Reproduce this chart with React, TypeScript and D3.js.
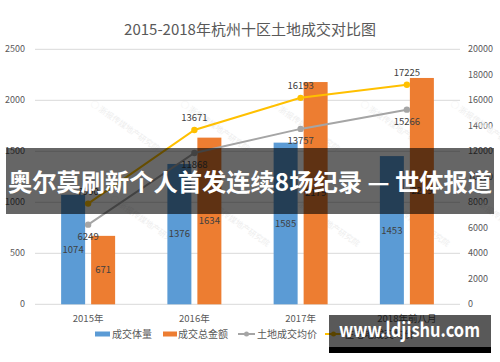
import React from "react";
import * as d3 from "d3";

const categories = ["2015年", "2016年", "2017年", "2018年前八月"];
const volume = [1074, 1376, 1585, 1453];
const amount = [671, 1634, 2179, 2219];
const landPrice = [6249, 11868, 13757, 15266];
const housingPrice = [7900, 13671, 16193, 17225];
const leftTicks = [0, 500, 1000, 1500, 2000, 2500];
const rightTicks = [0, 2000, 4000, 6000, 8000, 10000, 12000, 14000, 16000, 18000, 20000];
const seriesNames = ["成交体量", "成交总金额", "土地成交均价", "住宅地成交均价"];

const W = 500;
const H = 362;
const font = "'Noto Sans CJK SC', 'Noto Sans', sans-serif";
const BLUE = "#5b9bd5";
const ORANGE = "#ed7d31";
const GREY = "#a5a5a5";
const YELLOW = "#ffc000";
const TEXT = "#595959";

const App = () => {
  const x = d3.scaleBand().domain(categories).range([35, 460]);
  const yL = d3.scaleLinear().domain([0, 2500]).range([304.3, 49.3]);
  const yR = d3.scaleLinear().domain([0, 20000]).range([304.3, 49.3]);
  const cx = (c) => x(c) + x.bandwidth() / 2;
  const barW = 24;

  const line = d3
    .line()
    .x((d) => d[0])
    .y((d) => d[1]);

  const greyPts = categories.map((c, i) => [cx(c), yR(landPrice[i])]);
  const yellowPts = categories.map((c, i) => [cx(c), yR(housingPrice[i])]);

  // faint logo watermarks spread over the plot
  const marks = [];
  [35, 125, 215, 305, 395].forEach((wx) =>
    [105, 200].forEach((wy) => marks.push([wx + (wy > 150 ? 20 : 0), wy]))
  );

  return (
    <svg
      width={W}
      height={H}
      style={{ position: "absolute", left: 0, top: 0, background: "#fff" }}
      fontFamily={font}
    >
      <rect width={W} height={H} fill="#fff" />
      <text x={250} y={35} textAnchor="middle" fontSize={15} fill={TEXT}>
        2015-2018年杭州十区土地成交对比图
      </text>

      {leftTicks.map((t) => (
        <g key={"l" + t}>
          <line x1={35} x2={460} y1={yL(t)} y2={yL(t)} stroke="#d9d9d9" strokeWidth={1} />
          <text x={25} y={yL(t)} dy="0.35em" textAnchor="end" fontSize={9} fill={TEXT}>
            {t}
          </text>
        </g>
      ))}
      {rightTicks.map((t) => (
        <text key={"r" + t} x={468} y={yR(t)} dy="0.35em" fontSize={9} fill={TEXT}>
          {t}
        </text>
      ))}

      {marks.map(([mx, my], i) => (
        <text
          key={"wm" + i}
          transform={`translate(${mx + 55},${my}) rotate(35)`}
          fontSize={8}
          fill="#eeeeee"
        >
          ◯ 浙报传媒地产研究院
        </text>
      ))}

      {categories.map((c, i) => (
        <g key={c}>
          <rect
            x={cx(c) - 27}
            y={yL(volume[i])}
            width={barW}
            height={yL(0) - yL(volume[i])}
            fill={BLUE}
          />
          <rect
            x={cx(c) + 3}
            y={yL(amount[i])}
            width={barW}
            height={yL(0) - yL(amount[i])}
            fill={ORANGE}
          />
          <text
            x={cx(c) - 15}
            y={(yL(volume[i]) + yL(0)) / 2}
            dy="0.35em"
            textAnchor="middle"
            fontSize={9.5}
            fill="#404040"
          >
            {volume[i]}
          </text>
          <text
            x={cx(c) + 15}
            y={(yL(amount[i]) + yL(0)) / 2}
            dy="0.35em"
            textAnchor="middle"
            fontSize={9.5}
            fill="#404040"
          >
            {amount[i]}
          </text>
          <text x={cx(c)} y={yL(0) + 14} dy="0.35em" textAnchor="middle" fontSize={9.5} fill={TEXT}>
            {c}
          </text>
        </g>
      ))}

      <path d={line(greyPts)} fill="none" stroke={GREY} strokeWidth={2} />
      <path d={line(yellowPts)} fill="none" stroke={YELLOW} strokeWidth={2} />
      {greyPts.map((p, i) => (
        <g key={"g" + i}>
          <circle cx={p[0]} cy={p[1]} r={3.2} fill={GREY} />
          <text x={p[0]} y={p[1] + 12} dy="0.35em" textAnchor="middle" fontSize={9.5} fill="#404040">
            {landPrice[i]}
          </text>
        </g>
      ))}
      {yellowPts.map((p, i) => (
        <g key={"y" + i}>
          <circle cx={p[0]} cy={p[1]} r={3.2} fill={YELLOW} />
          <text x={p[0]} y={p[1] - 12} dy="0.35em" textAnchor="middle" fontSize={9.5} fill="#404040">
            {housingPrice[i]}
          </text>
        </g>
      ))}

      {/* legend */}
      <g fontSize={10} fill={TEXT}>
        <rect x={95} y={331.5} width={15} height={5} fill={BLUE} />
        <text x={112} y={334} dy="0.35em">{seriesNames[0]}</text>
        <rect x={163} y={331.5} width={14} height={5} fill={ORANGE} />
        <text x={178} y={334} dy="0.35em">{seriesNames[1]}</text>
        <line x1={238} x2={255} y1={334} y2={334} stroke={GREY} strokeWidth={2} />
        <circle cx={246.5} cy={334} r={2.5} fill={GREY} />
        <text x={257} y={334} dy="0.35em">{seriesNames[2]}</text>
        <line x1={325} x2={342} y1={334} y2={334} stroke={YELLOW} strokeWidth={2} />
        <circle cx={333.5} cy={334} r={2.5} fill={YELLOW} />
        <text x={344} y={334} dy="0.35em">{seriesNames[3]}</text>
      </g>

      {/* overlay banner */}
      <rect x={6} y={148} width={488} height={66} fill="rgba(0,0,0,0.6)" />
      <text
        x={250}
        y={183}
        dy="0.35em"
        textAnchor="middle"
        fontSize={24}
        fontWeight="bold"
        fill="#fff"
        textLength={484}
        lengthAdjust="spacingAndGlyphs"
      >
        奥尔莫刷新个人首发连续8场纪录 — 世体报道
      </text>

      {/* bottom watermark */}
      <rect x={329} y={315} width={162} height={32} fill="rgba(0,0,0,0.65)" />
      <rect x={329} y={347} width={162} height={6} fill="#000" />
      <text
        x={339}
        y={337}
        fontSize={20}
        fontWeight="bold"
        fill="#fff"
        textLength={141}
        lengthAdjust="spacingAndGlyphs"
      >
        www.ldjishu.com
      </text>
    </svg>
  );
};

export default App;
